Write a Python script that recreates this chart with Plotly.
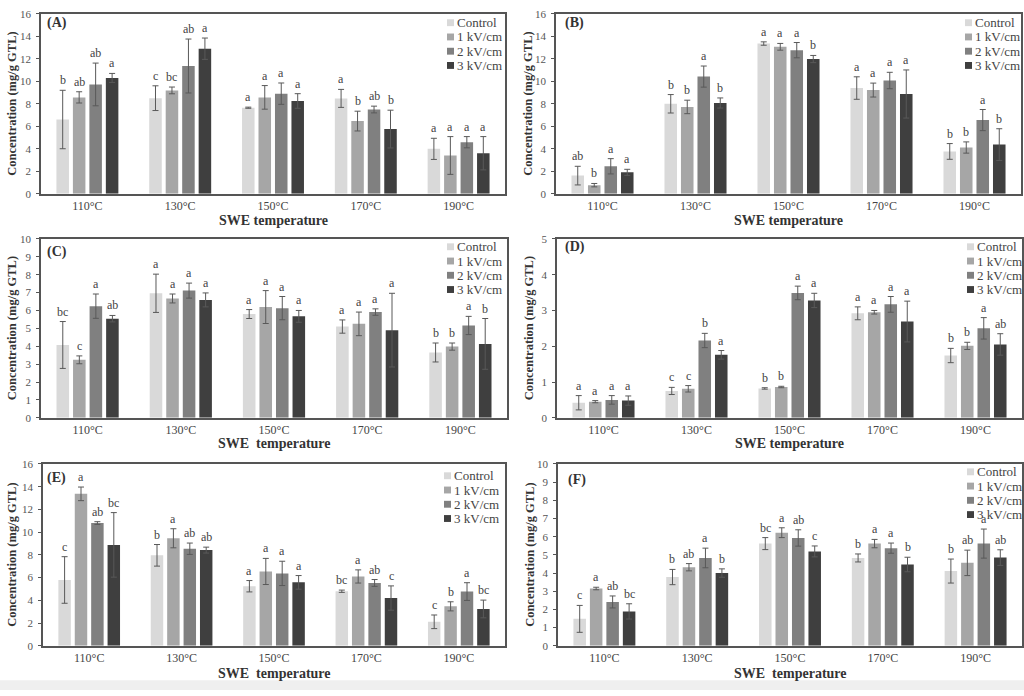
import plotly.graph_objects as go

W, H = 1024, 696

temperatures = ["110°C", "130°C", "150°C", "170°C", "190°C"]
treatments = ["Control", "1 kV/cm", "2 kV/cm", "3 kV/cm"]
bar_colors = ["#d9d9d9", "#a6a6a6", "#808080", "#3f3f3f"]

# ---- Panel A ----
A_means = [[6.6, 8.5, 7.65, 8.48, 3.99],
           [8.57, 9.19, 8.57, 6.46, 3.4],
           [9.72, 11.36, 8.9, 7.49, 4.58],
           [10.3, 12.9, 8.25, 5.75, 3.6]]
A_err = [[2.6, 1.1, 0.05, 0.8, 0.94],
         [0.5, 0.3, 1.05, 0.88, 1.68],
         [1.9, 2.4, 0.95, 0.3, 0.5],
         [0.4, 0.95, 0.65, 1.68, 1.48]]
A_letters = [["b", "c", "a", "a", "a"],
             ["ab", "bc", "a", "b", "a"],
             ["ab", "ab", "a", "ab", "a"],
             ["a", "a", "a", "b", "a"]]

# ---- Panel B ----
B_means = [[1.61, 8.0, 13.36, 9.4, 3.76],
           [0.76, 7.72, 13.07, 9.22, 4.11],
           [2.44, 10.42, 12.77, 10.07, 6.55],
           [1.9, 8.07, 11.98, 8.87, 4.37]]
B_err = [[0.83, 0.82, 0.15, 1.0, 0.7],
         [0.15, 0.6, 0.3, 0.62, 0.5],
         [0.68, 0.94, 0.68, 0.73, 0.94],
         [0.27, 0.45, 0.32, 2.14, 1.41]]
B_letters = [["ab", "b", "a", "a", "b"],
             ["b", "b", "a", "a", "b"],
             ["a", "a", "a", "a", "a"],
             ["a", "b", "b", "a", "b"]]

# ---- Panel C ----
C_means = [[4.07, 6.96, 5.8, 5.1, 3.65],
           [3.24, 6.67, 6.19, 5.25, 3.98],
           [6.24, 7.11, 6.13, 5.91, 5.16],
           [5.54, 6.59, 5.67, 4.9, 4.13]]
C_err = [[1.31, 1.07, 0.25, 0.37, 0.53],
         [0.22, 0.25, 0.92, 0.66, 0.2],
         [0.68, 0.42, 0.65, 0.18, 0.51],
         [0.18, 0.39, 0.33, 2.06, 1.42]]
C_letters = [["bc", "a", "a", "a", "b"],
             ["c", "a", "a", "a", "b"],
             ["a", "a", "a", "a", "a"],
             ["ab", "a", "a", "a", "b"]]

# ---- Panel D ----
D_means = [[0.42, 0.75, 0.82, 2.92, 1.74],
           [0.45, 0.81, 0.86, 2.95, 2.01],
           [0.5, 2.16, 3.49, 3.17, 2.5],
           [0.48, 1.76, 3.28, 2.69, 2.05]]
D_err = [[0.2, 0.1, 0.02, 0.18, 0.2],
         [0.03, 0.09, 0.02, 0.05, 0.1],
         [0.12, 0.2, 0.19, 0.22, 0.3],
         [0.13, 0.12, 0.2, 0.57, 0.3]]
D_letters = [["a", "c", "b", "a", "b"],
             ["a", "c", "b", "a", "b"],
             ["a", "b", "a", "a", "a"],
             ["a", "a", "a", "a", "ab"]]

# ---- Panel E ----
E_means = [[5.79, 7.96, 5.24, 4.8, 2.11],
           [13.37, 9.46, 6.54, 6.1, 3.47],
           [10.8, 8.54, 6.37, 5.53, 4.77],
           [8.88, 8.42, 5.58, 4.2, 3.24]]
E_err = [[2.05, 0.95, 0.5, 0.1, 0.6],
         [0.6, 0.84, 1.15, 0.58, 0.4],
         [0.12, 0.5, 1.07, 0.3, 0.78],
         [2.84, 0.26, 0.6, 1.07, 0.78]]
E_letters = [["c", "b", "a", "bc", "c"],
             ["a", "a", "a", "a", "b"],
             ["ab", "ab", "a", "ab", "a"],
             ["bc", "ab", "a", "c", "bc"]]

# ---- Panel F ----
F_means = [[1.48, 3.78, 5.62, 4.83, 4.11],
           [3.15, 4.32, 6.22, 5.62, 4.56],
           [2.41, 4.83, 5.93, 5.37, 5.62],
           [1.89, 4.0, 5.19, 4.47, 4.85]]
F_err = [[0.74, 0.42, 0.33, 0.22, 0.66],
         [0.07, 0.2, 0.27, 0.23, 0.7],
         [0.33, 0.54, 0.45, 0.28, 0.8],
         [0.42, 0.23, 0.3, 0.4, 0.43]]
F_letters = [["c", "b", "bc", "b", "b"],
             ["a", "ab", "a", "a", "ab"],
             ["ab", "a", "ab", "a", "a"],
             ["bc", "b", "c", "b", "ab"]]

panel_labels = ["(A)", "(B)", "(C)", "(D)", "(E)", "(F)"]
panel_means = [A_means, B_means, C_means, D_means, E_means, F_means]
panel_err = [A_err, B_err, C_err, D_err, E_err, F_err]
panel_letters = [A_letters, B_letters, C_letters, D_letters, E_letters, F_letters]
y_max = [16, 16, 10, 5, 16, 10]
y_dtick = [2, 2, 1, 1, 2, 1]
x_titles = ["SWE temperature", "SWE temperature", "SWE\u00a0 temperature",
            "SWE temperature", "SWE\u00a0 temperature", "SWE\u00a0 temperature"]
y_title = "Concentration (mg/g GTL)"

# ---- layout geometry (pixels) ----
boxes = [(41, 505, 8, 191), (556, 1021, 8, 191),
         (41, 507, 237, 419), (557, 1022, 237, 419),
         (43, 505, 466, 651), (558, 1022, 466, 651)]
ytitle_x = [12, 528, 12, 529, 12, 530]
xtitle_off = [27, 27, 26, 26, 28, 28]
label_pos = [(45, 17), (563, 17), (45, 250), (563, 245), (45, 480), (566, 482)]
legend_pos = [(447, 17), (965, 17), (447, 245), (967, 245), (444, 478), (967, 474)]
legend_step = 14.5

SERIF = "Liberation Serif"
BAR_GAP = 0.29
GROUP_GAP = 0.24

def fx(px):
    return px / W

def fy(py):
    return 1 - py / H

fig = go.Figure()
annotations = []
shapes = []
layout_axes = {}

slot = (1 - BAR_GAP) / 4
for p in range(6):
    n = "" if p == 0 else str(p + 1)
    xa, ya = "x" + n, "y" + n
    x0, x1, y0, y1 = boxes[p]
    for j in range(4):
        fig.add_trace(go.Bar(
            x=list(range(len(temperatures))), y=panel_means[p][j], name=treatments[j],
            marker=dict(color=bar_colors[j], line=dict(width=0)),
            error_y=dict(type="data", array=panel_err[p][j], color="#595959",
                         thickness=1, width=3),
            xaxis=xa, yaxis=ya, showlegend=False, hoverinfo="skip"))
        off = -(1 - BAR_GAP) / 2 + (j + 0.5) * slot
        for i in range(len(temperatures)):
            annotations.append(dict(
                x=i + off, y=panel_means[p][j][i] + panel_err[p][j][i],
                xref=xa, yref=ya, text=panel_letters[p][j][i], showarrow=False,
                yanchor="bottom", xanchor="center", yshift=1,
                font=dict(family=SERIF, size=12, color="#444")))
    layout_axes["xaxis" + n] = dict(
        domain=[fx(x0), fx(x1)], anchor=ya, range=[-0.5, 4.5],
        tickmode="array", tickvals=list(range(len(temperatures))), ticktext=temperatures,
        ticks="", showgrid=False, zeroline=False,
        showline=True, linecolor="#555", linewidth=1.5, mirror=True,
        tickfont=dict(family=SERIF, size=12, color="#444"))
    layout_axes["yaxis" + n] = dict(
        domain=[fy(y1), fy(y0)], anchor=xa, range=[0, y_max[p]], dtick=y_dtick[p],
        ticks="outside", ticklen=3, tickcolor="#555", showgrid=False, zeroline=False,
        showline=True, linecolor="#555", linewidth=1.5, mirror=True,
        ticklabelstandoff=3,
        tickfont=dict(family=SERIF, size=11, color="#555"))
    # y title
    annotations.append(dict(
        x=fx(ytitle_x[p]), xref="paper", y=0.5, yref=ya + " domain",
        text="<b>" + y_title + "</b>", textangle=-90, showarrow=False,
        xanchor="center", yanchor="middle",
        font=dict(family=SERIF, size=12.5, color="#333")))
    # x title
    annotations.append(dict(
        x=0.5, xref=xa + " domain", y=0, yref=ya + " domain", yshift=-xtitle_off[p],
        text="<b>" + x_titles[p] + "</b>", showarrow=False,
        xanchor="center", yanchor="middle",
        font=dict(family=SERIF, size=14, color="#333")))
    # panel label
    lx, ly = label_pos[p]
    annotations.append(dict(
        x=fx(lx), xref="paper", y=fy(ly), yref="paper",
        text="<b>" + panel_labels[p] + "</b>", showarrow=False,
        xanchor="left", yanchor="middle",
        font=dict(family=SERIF, size=14, color="#333")))
    # legend
    gx, gy = legend_pos[p]
    for j in range(4):
        cy = gy + j * legend_step
        shapes.append(dict(type="rect", xref="paper", yref="paper",
                           x0=fx(gx), x1=fx(gx + 7), y0=fy(cy + 3.5), y1=fy(cy - 3.5),
                           fillcolor=bar_colors[j], line=dict(width=0)))
        annotations.append(dict(
            x=fx(gx + 8), xref="paper", y=fy(cy), yref="paper",
            text=treatments[j], showarrow=False, xanchor="left", yanchor="middle",
            font=dict(family=SERIF, size=13, color="#444")))

# light strip at the bottom edge
shapes.append(dict(type="rect", xref="paper", yref="paper", x0=0, x1=1,
                   y0=0, y1=fy(686), fillcolor="#efefef", line=dict(width=0), layer="below"))

fig.update_layout(
    width=W, height=H, margin=dict(l=0, r=0, t=0, b=0),
    paper_bgcolor="white", plot_bgcolor="white",
    barmode="group", bargap=BAR_GAP, bargroupgap=GROUP_GAP,
    annotations=annotations, shapes=shapes, showlegend=False,
    **layout_axes)

fig.write_html(
    "out.html",
    config={"displayModeBar": False},
    post_script="document.body.style.margin='0';document.body.style.overflow='hidden';")
